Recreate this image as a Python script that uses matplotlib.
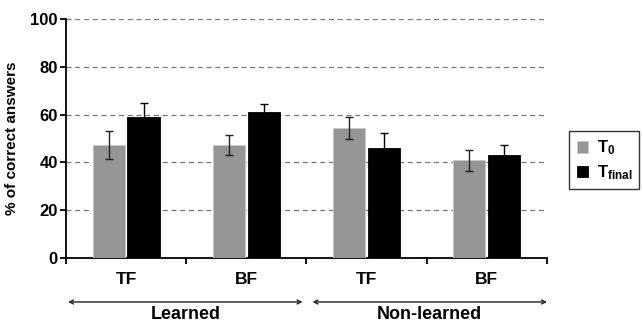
import numpy as np
import matplotlib
matplotlib.use('Agg')
import matplotlib.pyplot as plt

plt.rcParams['font.family'] = ['Liberation Sans', 'DejaVu Sans']
plt.rcParams['font.weight'] = 'bold'
plt.rcParams['mathtext.fontset'] = 'custom'
plt.rcParams['mathtext.bf'] = 'Liberation Sans:bold'
plt.rcParams['mathtext.rm'] = 'Liberation Sans:bold'

categories = ['TF', 'BF', 'TF', 'BF']
groups = ['Learned', 'Non-learned']
t0_vals = [47.3, 47.3, 54.5, 40.9]
t0_err = [5.7, 4.3, 4.5, 4.3]
tfinal_vals = [58.9, 61.0, 46.0, 43.0]
tfinal_err = [6.0, 3.4, 6.4, 4.4]

fig = plt.figure(figsize=(6.43, 3.23), dpi=100)
ax = fig.add_axes([0.1026, 0.2012, 0.7481, 0.7398])

x = np.arange(len(categories))
w = 0.267
off = 0.145
ax.bar(x - off, t0_vals, w, color='#959595', edgecolor='#c8c8c8', linewidth=0.6,
       yerr=t0_err, error_kw=dict(ecolor='#222222', elinewidth=1, capsize=2.6, capthick=1),
       label=r'$\mathbf{T_0}$', zorder=3)
ax.bar(x + off, tfinal_vals, w, color='black', edgecolor='black', linewidth=0.6,
       yerr=tfinal_err, error_kw=dict(ecolor='black', elinewidth=1, capsize=2.6, capthick=1),
       label=r'$\mathbf{T_{final}}$', zorder=3)

ax.set_xlim(-0.5, 3.5)
ax.set_ylim(0, 100)
ax.set_yticks([0, 20, 40, 60, 80, 100])
ax.yaxis.grid(True, linestyle=(0, (4, 3)), color='#777777', linewidth=0.9)
ax.set_axisbelow(True)
for s in ['top', 'right']:
    ax.spines[s].set_visible(False)
ax.spines['left'].set_linewidth(1.3)
ax.spines['bottom'].set_linewidth(1.3)
ax.tick_params(axis='y', labelsize=12, width=1.3, length=4, pad=2)
ax.set_xticks([-0.5, 0.5, 1.5, 2.5, 3.5])
ax.set_xticklabels([])
ax.tick_params(axis='x', width=1.3, length=4)
for i, c in enumerate(categories):
    ax.text(i, -0.09, c, transform=ax.get_xaxis_transform(), ha='center', va='center',
            fontsize=12.5, fontweight='bold')
ax.set_ylabel('% of correct answers', fontsize=11, fontweight='bold', labelpad=8)

# group arrows
spans = [(-0.483, 1.467), (1.55, 3.5)]
for (a, b), g in zip(spans, groups):
    ax.annotate('', xy=(a, -0.184), xytext=(b, -0.184), xycoords=ax.get_xaxis_transform(),
                arrowprops=dict(arrowstyle='<->', lw=1, color='#222222',
                                shrinkA=0, shrinkB=0, mutation_scale=7),
                annotation_clip=False)
    ax.text((a + b) / 2, -0.235, g, transform=ax.get_xaxis_transform(), ha='center',
            va='center', fontsize=13, fontweight='bold')

leg = fig.legend(loc='upper left', bbox_to_anchor=(0.885, 0.594), frameon=True,
                 fancybox=False, edgecolor='black', fontsize=12, handlelength=0.7,
                 handleheight=0.7, borderpad=0.45, labelspacing=0.35, handletextpad=0.5,
                 borderaxespad=0)
leg.get_frame().set_linewidth(1)

fig.savefig('out.png', dpi=100)
